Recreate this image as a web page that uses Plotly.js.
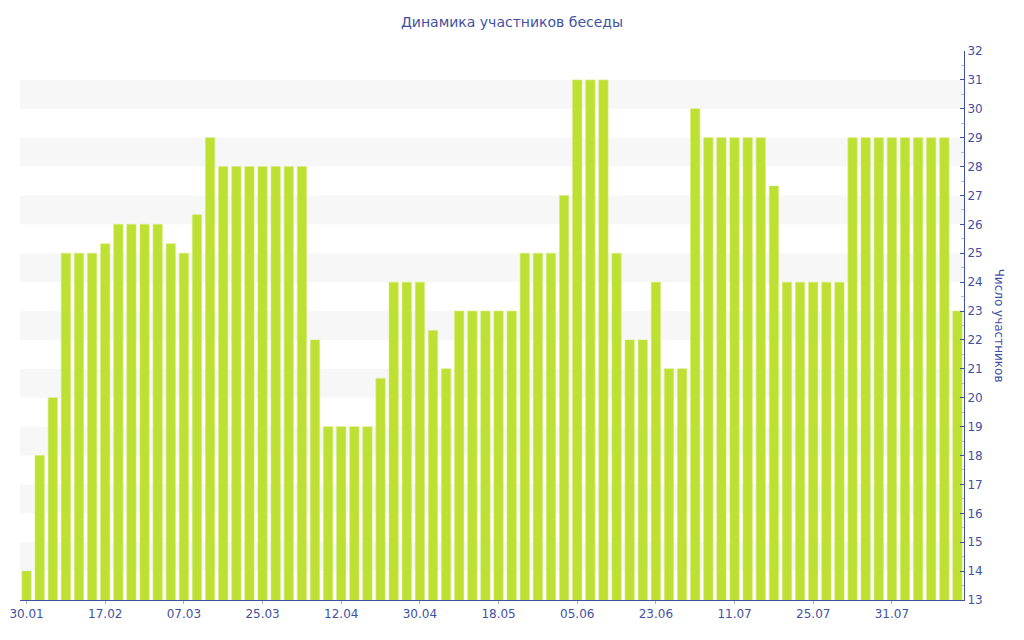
<!DOCTYPE html>
<html>
<head>
<meta charset="utf-8">
<script src="https://cdn.plot.ly/plotly-3.0.1.min.js"></script>
<style>
  body { margin: 0; background: #fff; }
  #graph { width: 1024px; height: 640px; }
</style>
</head>
<body>
<div id="graph"></div>
<script>
// participants per sample, one bar each
var members = [
    14, 18, 20, 25, 25, 25, 25.33, 26, 26, 26, 26, 25.33, 25, 26.33, 29,
    28, 28, 28, 28, 28, 28, 28, 22, 19, 19, 19, 19, 20.67, 24, 24, 24,
    22.33, 21, 23, 23, 23, 23, 23, 25, 25, 25, 27, 31, 31, 31, 25, 22, 22,
    24, 21, 21, 30, 29, 29, 29, 29, 29, 27.33, 24, 24, 24, 24, 24,
    29, 29, 29, 29, 29, 29, 29, 29, 23
]
var tickIdx = [0, 6, 12, 18, 24, 30, 36, 42, 48, 54, 60, 66]
var tickLabels = ['30.01', '17.02', '07.03', '25.03', '12.04', '30.04',
                  '18.05', '05.06', '23.06', '11.07', '25.07', '31.07']
var bandStarts = [14, 16, 18, 20, 22, 24, 26, 28, 30]

var blue = '#3f51a3'
var xs = members.map(function(v, i) { return i })

var bands = bandStarts.map(function(b) {
    return {
        type: 'rect', xref: 'paper', yref: 'y', layer: 'below',
        x0: 0, x1: 1, y0: b, y1: b + 1,
        fillcolor: '#f7f7f7', line: {width: 0}
    }
})

var trace = {
    x: xs,
    y: members,
    type: 'bar',
    marker: {color: '#bde032', line: {color: '#d3ec78', width: 0.6}},
    hoverinfo: 'y'
}

var layout = {
    width: 1024,
    height: 640,
    margin: {l: 20, r: 60, t: 51, b: 40},
    paper_bgcolor: '#fff',
    plot_bgcolor: '#fff',
    font: {family: 'DejaVu Sans', size: 12, color: blue},
    title: {
        text: 'Динамика участников беседы',
        font: {family: 'DejaVu Sans', size: 14, color: blue},
        x: 0.5, xanchor: 'center',
        y: 1 - 22 / 640, yref: 'container', yanchor: 'middle'
    },
    bargap: 0.29,
    showlegend: false,
    xaxis: {
        range: [-0.5, 71.5],
        tickvals: tickIdx,
        ticktext: tickLabels,
        showgrid: false,
        zeroline: false,
        showline: true,
        linecolor: blue,
        linewidth: 1,
        ticks: 'outside',
        ticklen: 3,
        tickcolor: '#aaa',
        tickfont: {size: 12, color: blue}
    },
    yaxis: {
        side: 'right',
        range: [13, 32],
        dtick: 1,
        showgrid: false,
        zeroline: false,
        showline: true,
        linecolor: blue,
        linewidth: 1,
        ticks: 'inside',
        ticklen: 4,
        tickcolor: blue,
        tickfont: {size: 12, color: blue},
        minor: {dtick: 0.5, ticks: 'inside', ticklen: 3, tickcolor: '#bbb', showgrid: false}
    },
    shapes: bands,
    annotations: [{
        text: 'Число участников',
        xref: 'paper', yref: 'paper',
        x: 1.038, y: 0.5,
        xanchor: 'center', yanchor: 'middle',
        textangle: 90,
        showarrow: false,
        font: {family: 'DejaVu Sans', size: 12, color: blue}
    }]
}

Plotly.newPlot('graph', [trace], layout, {displayModeBar: false, staticPlot: true})
</script>
</body>
</html>
